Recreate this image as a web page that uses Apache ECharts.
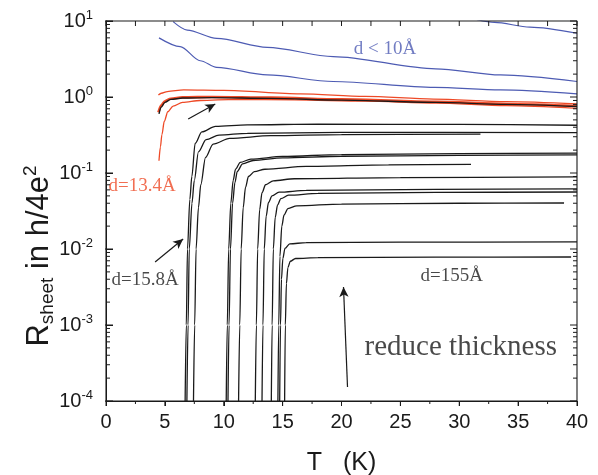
<!DOCTYPE html>
<html><head><meta charset="utf-8">
<script src="https://cdn.jsdelivr.net/npm/echarts@6/dist/echarts.min.js"></script>
<style>html,body{margin:0;padding:0;background:#fff}#c{width:598px;height:475px}</style>
</head><body><div id="c"></div>
<script>
// ---- data: [T (K), R_sheet (h/4e^2)] ----
const blueA = [[31.5,10.4],[33,9.6],[36,8.3],[40,6.9]];
const blueB = [[5.7,9.8],[6.9,7.6],[9.4,5.9],[13.7,4.5],[19.3,3.4],[28,2.35],[33.5,1.95],[40,1.6]];
const blueC = [[4.5,6.0],[6.3,4.6],[8.0,3.0],[9.4,2.45],[13.7,1.95],[19.3,1.6],[27.9,1.34],[33.5,1.24],[40,1.1]];
const red1 = [[4.45,1.06],[4.7,1.12],[5.2,1.18],[6.6,1.24],[10,1.22],[16.5,1.1],[22,1.02],[27.8,0.94],[34,0.87],[40,0.81]];
const red2 = [[4.45,0.63],[4.7,0.78],[5.0,0.88],[5.5,0.95],[6.5,0.99],[9,1.0],[14,0.98],[20,0.93],[28,0.865],[34,0.81],[40,0.76]];
const red3 = [[4.5,0.145],[4.62,0.22],[4.75,0.32],[4.95,0.48],[5.25,0.64],[5.7,0.76],[6.5,0.85],[8,0.9],[11,0.93],[16,0.92],[22,0.88],[28,0.83],[34,0.77],[40,0.71]];
const blackNoisy = [[4.5,0.6],[4.7,0.74],[5.0,0.85],[5.5,0.93],[6.5,0.97],[9,0.98],[14,0.96],[20,0.91],[28,0.85],[34,0.8],[40,0.75]];
const c1 = [[6.72,1e-4],[6.82,1e-3],[6.92,0.01],[7.12,0.045],[7.29,0.09],[7.57,0.245],[8.14,0.347],[9.3,0.41],[12,0.43],[18,0.44],[30,0.435],[40,0.425]];
const c2 = [[6.87,1e-4],[6.97,1e-3],[7.07,0.01],[7.3,0.04],[7.5,0.08],[7.85,0.19],[8.5,0.275],[9.6,0.315],[12,0.333],[20,0.343],[40,0.34]];
const c3 = [[7.43,1e-4],[7.53,1e-3],[7.65,0.01],[7.85,0.035],[8.05,0.07],[8.45,0.16],[9.1,0.24],[10.5,0.285],[14,0.31],[20,0.32],[31.8,0.325]];
const c4 = [[10.21,1e-4],[10.3,1e-3],[10.42,0.01],[10.6,0.04],[10.8,0.08],[11.0,0.112],[11.4,0.138],[12.3,0.152],[15,0.165],[20,0.175],[30,0.18],[40,0.183]];
const c5 = [[10.36,1e-4],[10.45,1e-3],[10.57,0.01],[10.75,0.04],[10.95,0.075],[11.15,0.105],[11.6,0.132],[12.5,0.146],[15,0.158],[20,0.166],[30,0.171],[40,0.173]];
const c6 = [[11.26,1e-4],[11.36,1e-3],[11.48,0.01],[11.65,0.035],[11.85,0.065],[12.1,0.09],[12.6,0.104],[13.5,0.112],[17,0.122],[24,0.128],[31,0.13]];
const c7 = [[12.68,1e-4],[12.77,1e-3],[12.88,0.01],[13.05,0.033],[13.25,0.055],[13.55,0.07],[14.2,0.079],[16,0.084],[25,0.087],[40,0.089]];
const c8 = [[13.25,1e-4],[13.33,1e-3],[13.44,0.01],[13.6,0.027],[13.8,0.041],[14.1,0.05],[14.7,0.056],[17,0.059],[28,0.061],[40,0.062]];
const c9 = [[14.04,1e-4],[14.11,1e-3],[14.21,0.01],[14.37,0.026],[14.57,0.038],[14.85,0.046],[15.5,0.051],[18,0.054],[28,0.0556],[40,0.0562]];
const c10 = [[14.6,1e-4],[14.67,1e-3],[14.77,0.008],[14.93,0.02],[15.12,0.028],[15.45,0.034],[16.2,0.037],[20,0.039],[30,0.04],[38.9,0.0403]];
const c11 = [[14.75,1e-4],[14.82,1e-3],[14.9,0.004],[15.02,0.0075],[15.2,0.0102],[15.6,0.0117],[17,0.0121],[25,0.0123],[40,0.0124]];
const c12 = [[15.17,1e-4],[15.23,1e-3],[15.32,0.0035],[15.45,0.0057],[15.65,0.0069],[16.1,0.0075],[18,0.0077],[28,0.0078],[39.5,0.00785]];
const blackCurves = [c1,c2,c3,c4,c5,c6,c7,c8,c9,c10,c11,c12];
// annotations: [text, T, R]
const notes = [['d < 10Å',23.7,4.3],['d=13.4Å',3.06,0.0675],['d=15.8Å',3.32,0.0039],['d=155Å',29.36,0.0044],['reduce thickness',30.13,5.0e-4]];
// arrows: [[T0,R0],[T1,R1]] (tail -> head)
const arrows = [[[6.98,0.514],[9.28,0.809]],[[4.17,0.00675],[6.55,0.01354]],[[20.51,1.53e-4],[20.17,3.16e-3]]];
// axis ranges / tick values
const xRange = [0, 40];
const yRange = [1e-4, 10];
const xMajorTicks = [0,5,10,15,20,25,30,35,40];
const yDecades = [-4,-3,-2,-1,0,1];

// ---- build ----
const BLUE = '#4d5bb3', RED = '#ee4a27', BLK = '#1a1a1a', AX = '#1a1a1a';
const SANS = 'Liberation Sans, Arial, sans-serif', SERIF = 'Liberation Serif, Times New Roman, serif';
function lineSeries(data, color, width, z) {
  return {type:'line', data, showSymbol:false, symbol:'none', smooth:0.3, smoothMonotone:'x',
    lineStyle:{color, width}, z: z || 2, silent:true};
}
const noteStyles = [
  {color:BLUE, fontSize:19}, {color:RED, fontSize:19}, {color:BLK, fontSize:19},
  {color:BLK, fontSize:19}, {color:BLK, fontSize:29}
];
const series = [];
[blueA, blueB, blueC].forEach(d => series.push(lineSeries(d, BLUE, 1.2)));
[red1, red3].forEach(d => series.push(lineSeries(d, RED, 1.3)));
series.push(lineSeries(red2, RED, 2.6));
series.push(lineSeries(blackNoisy, BLK, 1.4, 3));
blackCurves.forEach(d => series.push(lineSeries(d, BLK, 1.3, 3)));
series.push({
  type:'scatter', symbolSize:0, silent:true, z:5,
  data: notes.map((n, i) => ({value:[n[1], n[2]], label:{formatter:n[0], color:noteStyles[i].color, fontSize:noteStyles[i].fontSize}})),
  label:{show:true, position:'inside', fontFamily:SERIF},
  markLine:{silent:true, symbol:['none','arrow'], symbolSize:[7,10], animation:false,
    label:{show:false}, lineStyle:{color:BLK, width:1.2, type:'solid'},
    data: arrows.map(a => [{coord:a[0]}, {coord:a[1]}])}
});

// plot frame and ticks drawn through the axis scales (tick lengths converted from pixels)
const KX = 40 / 471;   // K per pixel on the x scale
const DY = 5 / 380;    // decades per pixel on the log y scale
const segs = [];
function seg(a, b) { segs.push(a, b, '-'); }
const frame = [[xRange[0], yRange[0]], [xRange[1], yRange[0]], [xRange[1], yRange[1]], [xRange[0], yRange[1]], [xRange[0], yRange[0]]];
xMajorTicks.forEach(x => {
  seg([x, yRange[0]], [x, yRange[0] * Math.pow(10, -5 * DY)]);          // bottom major, outward
  seg([x, yRange[1]], [x, yRange[1] * Math.pow(10, -5 * DY)]);          // top, inward
  if (x < xRange[1]) {
    const m = x + 2.5;
    seg([m, yRange[0]], [m, yRange[0] * Math.pow(10, -3 * DY)]);        // bottom minor, outward
    seg([m, yRange[1]], [m, yRange[1] * Math.pow(10, -5 * DY)]);        // top, inward
  }
});
yDecades.forEach(e => {
  const v = Math.pow(10, e);
  seg([xRange[0], v], [xRange[0] + 7 * KX, v]);
  seg([xRange[0], v], [xRange[0] - 5 * KX, v]);
  seg([xRange[1], v], [xRange[1] - 7 * KX, v]);
  if (e < 1) for (let k = 2; k <= 9; k++) {
    const w = k * v;
    seg([xRange[0], w], [xRange[0] + 4 * KX, w]);
    seg([xRange[1], w], [xRange[1] - 4 * KX, w]);
  }
});
series.push({type:'line', data:frame, showSymbol:false, symbol:'none', clip:false, silent:true, z:8,
  lineStyle:{color:AX, width:1.1}});
series.push({type:'line', data:segs, showSymbol:false, symbol:'none', clip:false, silent:true, z:8,
  connectNulls:false, lineStyle:{color:AX, width:1}});

const yBase = {type:'log', min:yRange[0], max:yRange[1], splitLine:{show:false}};
const option = {
  animation:false,
  grid:{left:106, right:21, top:21, bottom:74, outerBoundsMode:'none'},
  xAxis:[
    {type:'value', min:xRange[0], max:xRange[1], interval:5, position:'bottom',
     axisLine:{show:true, onZero:false, lineStyle:{color:AX, width:1}},
     axisTick:{show:true, length:5, lineStyle:{color:AX, width:1}},
     splitLine:{show:false},
     axisLabel:{show:true, fontSize:20, fontFamily:SANS, color:AX, margin:11},
     name:'T   (K)', nameLocation:'middle', nameGap:50,
     nameTextStyle:{fontSize:25, fontFamily:SANS, color:AX}}
  ],
  yAxis:[
    Object.assign({}, yBase, {position:'left',
     axisLine:{show:true, onZero:false, lineStyle:{color:AX, width:1}},
     axisTick:{show:true, inside:true, length:7, lineStyle:{color:AX, width:1}},
     axisLabel:{show:true, margin:13, formatter: v => '{b|10}{s|' + Math.round(Math.log10(v)) + '}',
       rich:{b:{fontSize:20, fontFamily:SANS, color:AX, lineHeight:24},
             s:{fontSize:13, fontFamily:SANS, color:AX, verticalAlign:'top', lineHeight:13}}}})
  ],
  graphic:[{
    type:'text', x:39, y:256, rotation:Math.PI/2, silent:true,
    style:{text:'{m|R}{sub|sheet}{m| in h/4e}{sup|2}', align:'center', verticalAlign:'middle', fill:AX,
      rich:{m:{fontSize:31, fontFamily:SANS, fill:AX, lineHeight:36},
            sub:{fontSize:19, fontFamily:SANS, fill:AX, verticalAlign:'bottom', lineHeight:19},
            sup:{fontSize:19, fontFamily:SANS, fill:AX, verticalAlign:'top', lineHeight:19}}}
  }],
  series
};
const chart = echarts.init(document.getElementById('c'), null, {renderer:'canvas'});
chart.setOption(option);
</script>
</body></html>
